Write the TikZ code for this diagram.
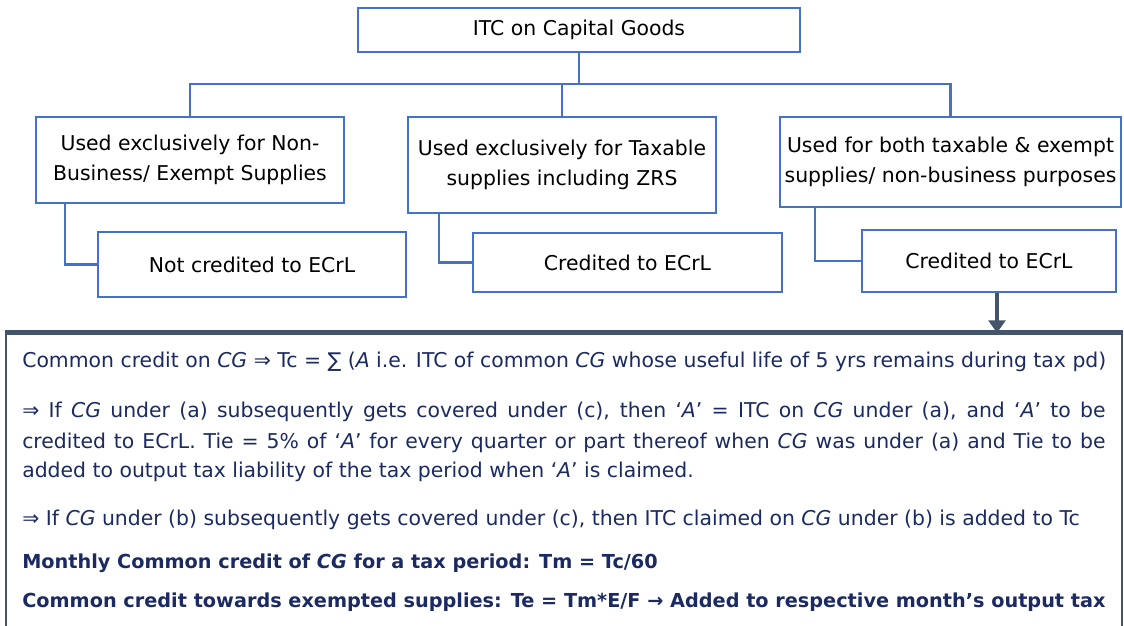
\documentclass[tikz,border=0pt]{standalone}
\usepackage{fontspec}
\setmainfont{DejaVu Sans}
\usepackage{xcolor}
\usepackage{tikz}
\usetikzlibrary{arrows.meta,calc}

\definecolor{boxblue}{HTML}{4472C4}
\definecolor{slate}{HTML}{44546A}
\definecolor{inkblue}{HTML}{1B2A62}
\newcommand{\px}{0.025cm}
\newcommand{\CG}{\textit{CG}}
\newlength{\rulew}
\setlength{\rulew}{27.075cm}

\begin{document}
\begin{tikzpicture}[x=\px, y=-\px]
				\tikzstyle{every node}=[font=\fontsize{14.5}{21}\selectfont];
				\tikzstyle{case}=[draw=boxblue, line width=1.5pt, align=center, inner sep=0pt, fill=white];
				\tikzstyle{link}=[draw=boxblue, line width=1.5pt];
				\tikzstyle{rule}=[anchor=west, text=inkblue, inner sep=0pt];
				\tikzstyle{boldrule}=[rule, font=\fontsize{13.7}{21}\selectfont\bfseries];
				
				\clip (0,0) rectangle (1124,625);
				
				%Top
				\node[case, minimum width=442*\px, minimum height=44*\px] (itc) at (579,30) {ITC on Capital Goods};
				
				%Uses
				\node[case, minimum width=308*\px, minimum height=86*\px] (nonbiz) at (190,160) {Used exclusively for Non-\\Business/ Exempt Supplies};
				\node[case, minimum width=308*\px, minimum height=96*\px] (taxable) at (562,165) {Used exclusively for Taxable\\supplies including ZRS};
				\node[case, minimum width=341*\px, minimum height=90*\px] (both) at (950.5,162) {Used for both taxable \& exempt\\supplies/ non-business purposes};
				
				\coordinate (bus) at (579,84);
				\draw[link] (itc.south) -- (bus);
				\draw[link] (nonbiz.north) -- (nonbiz.north |- bus) -- (both.north |- bus) -- (both.north);
				\draw[link] (taxable.north) -- (taxable.north |- bus);
				
				%Results
				\node[case, minimum width=308*\px, minimum height=65*\px] (res1) at (252,264.5) {Not credited to ECrL};
				\node[case, minimum width=309*\px, minimum height=59*\px] (res2) at (627.5,262.5) {Credited to ECrL};
				\node[case, minimum width=254*\px, minimum height=62*\px] (res3) at (989,261) {Credited to ECrL};
				\draw[link] ($(nonbiz.south west)+(30,0)$) |- (res1.west);
				\draw[link] ($(taxable.south west)+(32,0)$) |- (res2.west);
				\draw[link] ($(both.south west)+(36,0)$) |- (res3.west);
				
				%Common credit
				\node[draw=slate, line width=1.5pt, minimum width=1116*\px, minimum height=306*\px, inner sep=0pt] (calc) at (564,487) {};
				\draw[slate, line width=3.5pt] (calc.north west) -- (calc.north east);
				\coordinate (drop) at ($(res3.south)+(8,0)$);
				\draw[slate, line width=3.5pt, -{Triangle[width=12pt,length=9pt]}] (drop) -- (drop |- calc.north);
				
				\node[rule] (l1) at (22,362) {Common credit on \CG{} ⇒ Tc = ∑ (\textit{A} i.e. ITC of common \CG{} whose useful life of 5 yrs remains during tax pd)};
				\node[rule] (l2) at (22,412) {\makebox[\rulew][s]{⇒ If \CG{} under (a) subsequently gets covered under (c), then ‘\textit{A}’ = ITC on \CG{} under (a), and ‘\textit{A}’ to be}};
				\node[rule] (l3) at (22,443) {\makebox[\rulew][s]{credited to ECrL. Tie = 5\% of ‘\textit{A}’ for every quarter or part thereof when \CG{} was under (a) and Tie to be}};
				\node[rule] (l4) at (22,472) {added to output tax liability of the tax period when ‘\textit{A}’ is claimed.};
				\node[rule] (l5) at (22,520) {⇒ If \CG{} under (b) subsequently gets covered under (c), then ITC claimed on \CG{} under (b) is added to Tc};
				\node[boldrule] (l6) at (22,563) {Monthly Common credit of \CG{} for a tax period: Tm = Tc/60};
				\node[boldrule] (l7) at (22,602) {Common credit towards exempted supplies: Te = Tm*E/F → Added to respective month’s output tax};
			\end{tikzpicture}
\end{document}
